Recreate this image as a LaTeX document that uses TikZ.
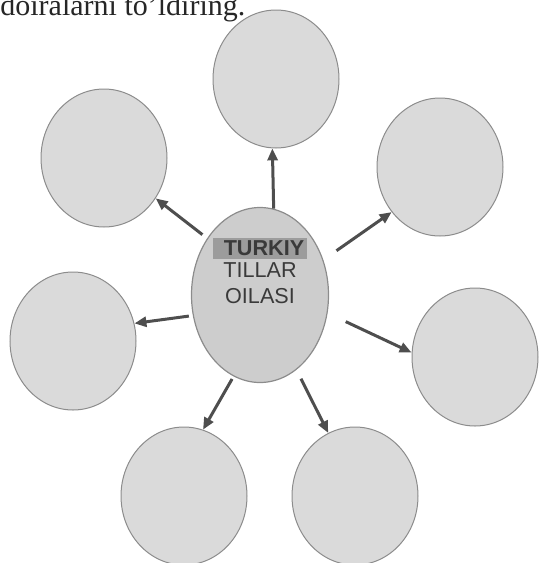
\documentclass[tikz,border=0pt]{standalone}
\usepackage{fontspec}
\setmainfont{Liberation Serif}
\setsansfont{Liberation Sans}
\usepackage{tikz}
\usetikzlibrary{arrows.meta,shapes.geometric}
\definecolor{blobfill}{HTML}{DADADA}
\definecolor{hubfill}{HTML}{CDCDCD}
\definecolor{rim}{HTML}{8C8C8C}
\definecolor{ink}{HTML}{3A3A3A}
\definecolor{band}{HTML}{9C9C9C}

\begin{document}
\begin{tikzpicture}[
  x=0.5pt, y=-0.5pt,
  font=\sffamily,
  blob/.style={ellipse, draw=rim, line width=0.5pt, fill=blobfill, inner sep=0pt, minimum width=63pt, minimum height=69pt},
  hub/.style={ellipse, draw=rim, line width=0.6pt, fill=hubfill, inner sep=0pt, minimum width=68.5pt, minimum height=87.5pt},
  spoke/.style={-{Triangle[length=6pt,width=5pt]}, line width=1.5pt, draw=ink!90},
  hubtxt/.style={font=\sffamily\fontsize{10.8}{13}\selectfont, text=ink, align=center, inner sep=0pt}
]
  \useasboundingbox (0,0) rectangle (538,563);

  % task line, cut by the page top
  \node[anchor=base west, inner sep=0pt, font=\rmfamily\fontsize{15}{18}\selectfont, text=black!85] (task) at (0,15) {doiralarni to'ldiring.};

  % centre
  \node[hub] (tt) at (260,295) {};
  \node[hubtxt] (ttlbl) at ([yshift=12pt]tt.center) {{\setlength{\fboxsep}{1.5pt}\colorbox{band}{\hspace{4pt}\textbf{TURKIY}}}\\[-2pt]TILLAR\\OILASI};

  % empty circles
  \node[blob] (n1) at (276,79)   {};
  \node[blob] (n2) at (104,158)  {};
  \node[blob] (n3) at (440,167)  {};
  \node[blob] (n4) at (73,341)   {};
  \node[blob] (n5) at (475,357)  {};
  \node[blob] (n6) at (184,496)  {};
  \node[blob] (n7) at (355,496)  {};

  \draw[spoke] (tt.81) -- (n1.267);
  \draw[spoke, shorten <=3pt] (tt.133) -- (n2.-38);
  \draw[spoke, shorten <=8pt] (tt.29) -- (n3.223);
  \draw[spoke, shorten <=2pt] (tt.197) -- (n4.16);
  \draw[spoke, shorten <=10pt] (tt.-15) -- (n5.176);
  \draw[spoke, shorten <=1.5pt] (tt.252) -- (n6.74);
  \draw[spoke, shorten <=5pt] (tt.-64) -- (n7.113);
\end{tikzpicture}
\end{document}
